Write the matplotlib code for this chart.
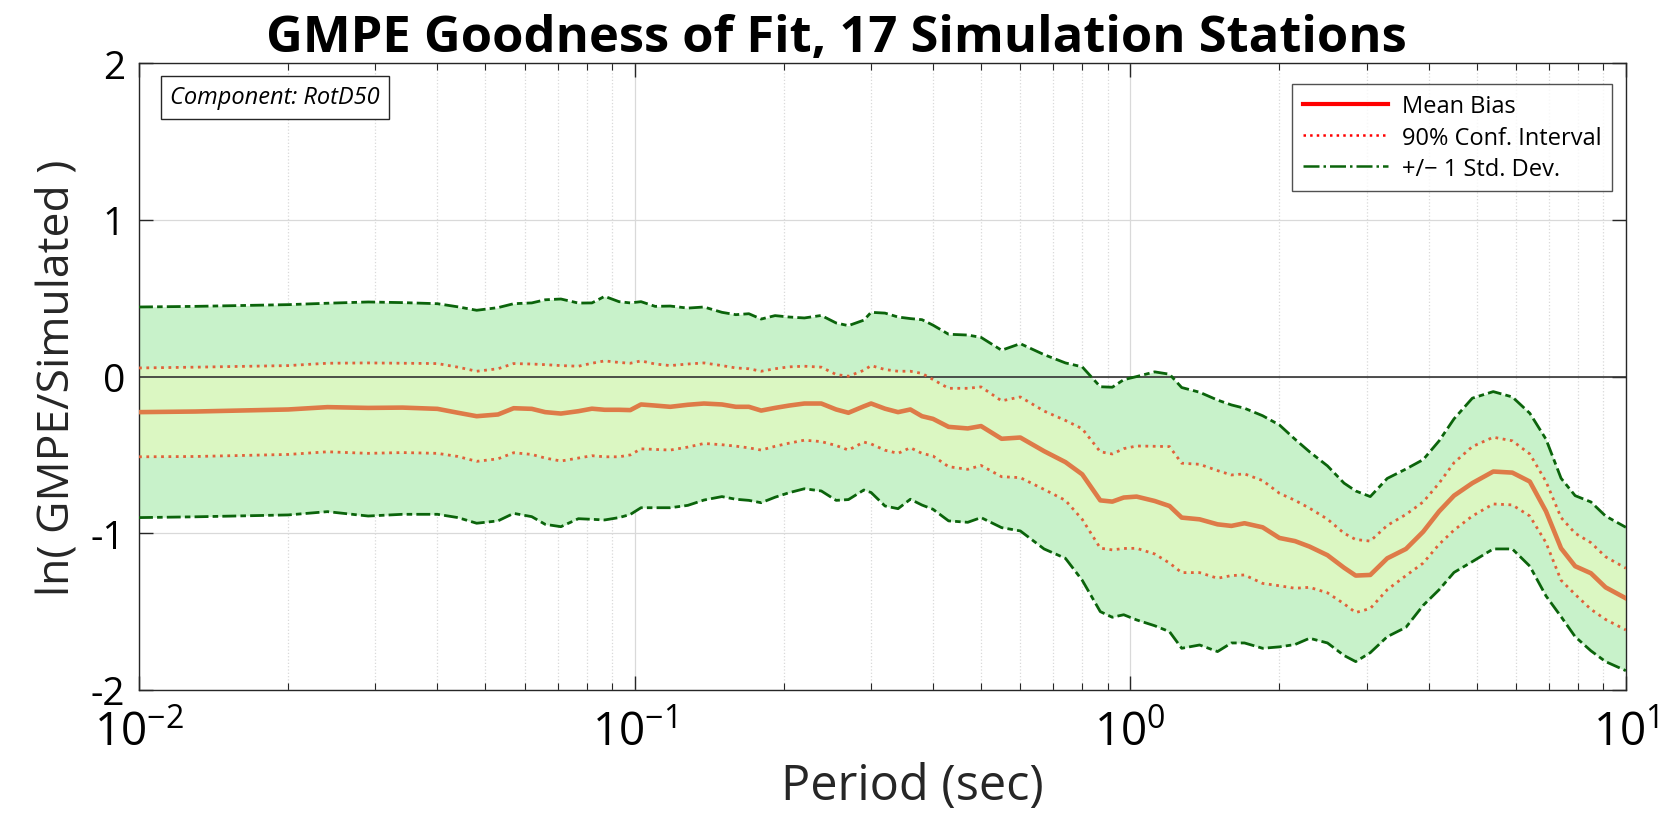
import numpy as np
import matplotlib
matplotlib.use('Agg')
import matplotlib.pyplot as plt
from matplotlib.lines import Line2D

plt.rcParams['font.family'] = ['Open Sans', 'DejaVu Sans']
plt.rcParams['mathtext.fontset'] = 'custom'
plt.rcParams['mathtext.rm'] = 'Open Sans'
plt.rcParams['mathtext.it'] = 'Open Sans:italic'
plt.rcParams['mathtext.bf'] = 'Open Sans:bold'

# period (sec)
period = [0.01, 0.013, 0.02, 0.024, 0.029, 0.034, 0.04, 0.044, 0.048, 0.053,
          0.057, 0.062, 0.066, 0.071, 0.077, 0.082, 0.087, 0.093, 0.098, 0.103,
          0.11, 0.118, 0.128, 0.138, 0.15, 0.16, 0.17, 0.18, 0.192, 0.205,
          0.22, 0.238, 0.255, 0.27, 0.29, 0.3, 0.32, 0.34, 0.36, 0.38,
          0.4, 0.43, 0.47, 0.5, 0.55, 0.6, 0.67, 0.74, 0.8, 0.87,
          0.92, 0.97, 1.03, 1.12, 1.2, 1.27, 1.38, 1.5, 1.6, 1.7,
          1.85, 2.0, 2.15, 2.3, 2.5, 2.7, 2.85, 3.05, 3.3, 3.6,
          3.9, 4.2, 4.5, 4.9, 5.4, 5.9, 6.4, 6.9, 7.4, 7.9,
          8.5, 9.1, 10.0]

mean_bias = [-0.227, -0.223, -0.21, -0.195, -0.2, -0.198, -0.206, -0.231, -0.253, -0.242,
             -0.202, -0.206, -0.227, -0.236, -0.221, -0.205, -0.212, -0.212, -0.214, -0.178,
             -0.185, -0.193, -0.18, -0.172, -0.178, -0.193, -0.193, -0.217, -0.2, -0.185,
             -0.172, -0.172, -0.21, -0.231, -0.19, -0.172, -0.205, -0.227, -0.21, -0.253,
             -0.27, -0.321, -0.331, -0.316, -0.397, -0.389, -0.476, -0.546, -0.624, -0.79,
             -0.798, -0.772, -0.766, -0.794, -0.826, -0.9, -0.911, -0.943, -0.953, -0.936,
             -0.962, -1.03, -1.05, -1.085, -1.14, -1.22, -1.27, -1.266, -1.16, -1.1,
             -0.99, -0.86, -0.76, -0.68, -0.606, -0.613, -0.67, -0.86, -1.096, -1.21,
             -1.255, -1.345, -1.415]

ci_upper = [0.055, 0.06, 0.07, 0.085, 0.087, 0.085, 0.083, 0.06, 0.034, 0.05,
            0.083, 0.08, 0.076, 0.07, 0.066, 0.085, 0.1, 0.09, 0.085, 0.1,
            0.08, 0.07, 0.08, 0.087, 0.07, 0.055, 0.05, 0.034, 0.05, 0.062,
            0.066, 0.06, 0.013, 0.002, 0.04, 0.07, 0.045, 0.034, 0.034, 0.02,
            -0.019, -0.075, -0.075, -0.066, -0.155, -0.13, -0.22, -0.28, -0.333, -0.48,
            -0.494, -0.46, -0.443, -0.445, -0.447, -0.553, -0.56, -0.6, -0.628, -0.621,
            -0.664, -0.745, -0.79, -0.84, -0.91, -1.0, -1.04, -1.05, -0.95, -0.88,
            -0.8, -0.68, -0.55, -0.447, -0.387, -0.41, -0.494, -0.67, -0.9, -1.0,
            -1.06, -1.15, -1.223]

ci_lower = [-0.512, -0.51, -0.497, -0.48, -0.49, -0.485, -0.49, -0.51, -0.541, -0.525,
            -0.486, -0.497, -0.52, -0.539, -0.52, -0.505, -0.512, -0.512, -0.5, -0.461,
            -0.465, -0.469, -0.45, -0.427, -0.435, -0.444, -0.455, -0.469, -0.445, -0.425,
            -0.406, -0.415, -0.44, -0.469, -0.418, -0.43, -0.47, -0.49, -0.454, -0.49,
            -0.507, -0.575, -0.592, -0.567, -0.639, -0.645, -0.72, -0.79, -0.911, -1.095,
            -1.106, -1.097, -1.096, -1.132, -1.19, -1.251, -1.251, -1.287, -1.27, -1.266,
            -1.32, -1.335, -1.351, -1.345, -1.38, -1.45, -1.506, -1.48, -1.36, -1.27,
            -1.19, -1.07, -0.98, -0.89, -0.813, -0.819, -0.89, -1.06, -1.3, -1.39,
            -1.485, -1.55, -1.617]

std_upper = [0.444, 0.448, 0.459, 0.468, 0.476, 0.472, 0.465, 0.445, 0.423, 0.44,
             0.465, 0.47, 0.49, 0.495, 0.469, 0.47, 0.512, 0.478, 0.47, 0.478,
             0.448, 0.45, 0.437, 0.444, 0.41, 0.395, 0.401, 0.367, 0.389, 0.38,
             0.374, 0.39, 0.342, 0.325, 0.36, 0.41, 0.405, 0.38, 0.37, 0.363,
             0.328, 0.27, 0.265, 0.25, 0.168, 0.21, 0.14, 0.087, 0.062, -0.065,
             -0.068, -0.02, 0.0, 0.03, 0.015, -0.07, -0.1, -0.15, -0.181, -0.202,
             -0.25, -0.309, -0.4, -0.48, -0.57, -0.68, -0.73, -0.766, -0.65, -0.59,
             -0.53, -0.41, -0.27, -0.138, -0.096, -0.13, -0.234, -0.4, -0.649, -0.76,
             -0.8, -0.89, -0.962]

std_lower = [-0.9, -0.895, -0.883, -0.862, -0.89, -0.879, -0.879, -0.9, -0.936, -0.921,
             -0.873, -0.894, -0.943, -0.958, -0.907, -0.911, -0.915, -0.9, -0.88, -0.837,
             -0.837, -0.837, -0.822, -0.788, -0.766, -0.783, -0.79, -0.805, -0.77, -0.741,
             -0.716, -0.73, -0.79, -0.785, -0.724, -0.74, -0.826, -0.843, -0.783, -0.82,
             -0.847, -0.921, -0.93, -0.9, -0.964, -0.985, -1.1, -1.16, -1.3, -1.5,
             -1.536, -1.52, -1.553, -1.59, -1.628, -1.734, -1.713, -1.755, -1.7, -1.7,
             -1.734, -1.725, -1.71, -1.67, -1.7, -1.78, -1.819, -1.762, -1.66, -1.6,
             -1.46, -1.36, -1.25, -1.181, -1.1, -1.1, -1.21, -1.4, -1.532, -1.66,
             -1.75, -1.819, -1.877]

n_stations = 17
component = 'RotD50'

fig = plt.figure(figsize=(16.65, 8.28), dpi=100)
ax = fig.add_axes([0.0835, 0.1655, 0.893, 0.757])

ax.fill_between(period, std_lower, std_upper, color='#c8f2ca', lw=0, zorder=1)
ax.fill_between(period, ci_lower, ci_upper, color='#dbf7c2', lw=0, zorder=1.1)
ax.axhline(0, color='#333333', lw=1.2, zorder=2)

ax.plot(period, std_upper, color='#0b640b', ls=(0, (5, 1.5, 2, 1.5)), lw=2.0, zorder=3)
ax.plot(period, std_lower, color='#0b640b', ls=(0, (5, 1.5, 2, 1.5)), lw=2.0, zorder=3)
ax.plot(period, ci_upper, color='#e0623a', ls=':', lw=2.0, zorder=3)
ax.plot(period, ci_lower, color='#e0623a', ls=':', lw=2.0, zorder=3)
ax.plot(period, mean_bias, color='#de7b48', ls='-', lw=3.3, zorder=4)

ax.set_xscale('log')
ax.set_xlim(0.01, 10)
ax.set_ylim(-2, 2)
ax.set_yticks([-2, -1, 0, 1, 2])
ax.set_yticklabels(['-2', '-1', '0', '1', '2'])

ax.grid(True, which='major', color='#d9d9d9', lw=0.9, ls='-', zorder=0)
ax.grid(True, which='minor', axis='x', color='#d9d9d9', lw=0.9, ls=':', zorder=0)
ax.set_axisbelow(True)

ax.tick_params(which='both', direction='in', top=True, right=True, color='#262626')
ax.tick_params(which='major', length=10, width=1, labelsize=33, pad=14)
ax.tick_params(which='minor', length=5, width=0.8)
ax.tick_params(axis='y', labelsize=28, pad=10)
for s in ax.spines.values():
    s.set_color('#262626')
    s.set_linewidth(1.0)

ax.set_xlabel('Period (sec)', fontsize=35, labelpad=4, color='#262626', x=0.52)
ax.set_ylabel('ln( GMPE/Simulated )', fontsize=32, labelpad=8, color='#262626')
ax.set_title('GMPE Goodness of Fit, %d Simulation Stations' % n_stations,
             fontsize=36.5, fontweight='bold', pad=4, x=0.469)

ax.text(0.021, 0.965, 'Component: ' + component, transform=ax.transAxes,
        fontsize=17, style='italic', va='top', ha='left',
        bbox=dict(boxstyle='square,pad=0.4', fc='white', ec='#262626', lw=1))

handles = [Line2D([], [], color='red', lw=3),
           Line2D([], [], color='red', ls=':', lw=1.8),
           Line2D([], [], color='#0b640b', ls='-.', lw=1.8)]
leg = ax.legend(handles, ['Mean Bias', '90% Conf. Interval', '+/\u2212 1 Std. Dev.'],
                loc='upper right', bbox_to_anchor=(0.991, 0.967), fontsize=17,
                frameon=True, fancybox=False, edgecolor='#262626',
                handlelength=3.6, handletextpad=0.6, borderpad=0.45,
                labelspacing=0.3, borderaxespad=0)
leg.get_frame().set_linewidth(1.0)

fig.savefig('out.png', dpi=100)
